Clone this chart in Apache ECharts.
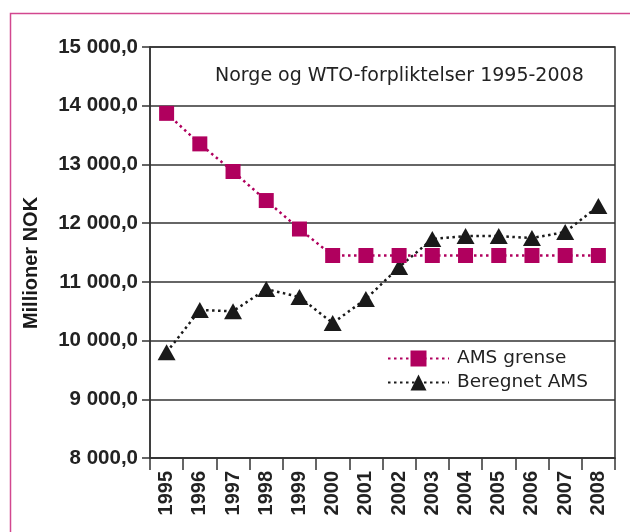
<!DOCTYPE html>
<html>
<head>
<meta charset="utf-8">
<script src="https://cdn.jsdelivr.net/npm/echarts@6/dist/echarts.min.js"></script>
<style>
html,body{margin:0;padding:0;background:#fff;}
#chart{width:630px;height:532px;}
</style>
</head>
<body>
<div id="chart"></div>
<script>
const years = ['1995','1996','1997','1998','1999','2000','2001','2002','2003','2004','2005','2006','2007','2008'];
const amsGrense = [13870, 13350, 12880, 12385, 11900, 11449, 11449, 11449, 11449, 11449, 11449, 11449, 11449, 11449];
const beregnetAms = [9800, 10520, 10500, 10877, 10741, 10298, 10707, 11252, 11729, 11780, 11780, 11746, 11848, 12290];
const yTicks = [8000, 9000, 10000, 11000, 12000, 13000, 14000, 15000];
const titleText = 'Norge og WTO-forpliktelser 1995-2008';
const yName = 'Millioner NOK';
const seriesNames = ['AMS grense', 'Beregnet AMS'];

function fmt(v) {
  const s = String(Math.round(v));
  const th = s.slice(0, s.length - 3);
  const rest = s.slice(s.length - 3);
  return (th ? th + ' ' : '') + rest + ',0';
}

const chart = echarts.init(document.getElementById('chart'), null, {renderer: 'canvas'});
const magenta = '#b0005e';
const dark = '#1a1a1a';

chart.setOption({
  animation: false,
  backgroundColor: '#fff',
  title: {
    text: titleText,
    left: 210, top: 62,
    textStyle: {fontFamily: 'DejaVu Sans', fontSize: 19, fontWeight: 'normal', color: '#222'}
  },
  graphic: [{
    type: 'rect',
    left: 8, top: 11,
    shape: {width: 700, height: 600},
    style: {fill: 'none', stroke: '#d2478f', lineWidth: 1.5},
    silent: true
  }, {
    type: 'text',
    x: 31, y: 263,
    rotation: Math.PI / 2,
    style: {
      text: yName, fill: '#1a1a1a',
      font: 'bold 20px "Liberation Sans"',
      textAlign: 'center', textVerticalAlign: 'middle'
    },
    silent: true
  }],
  legend: {
    orient: 'vertical',
    left: 387, top: 349,
    padding: 0,
    itemWidth: 61, itemHeight: 20, itemGap: 5,
    textStyle: {fontFamily: 'DejaVu Sans', fontSize: 18.5, color: '#222', padding: [0, 0, 0, 3]},
    data: seriesNames
  },
  grid: {
    left: 150, top: 47, right: 15, bottom: 74,
    show: true, borderColor: '#333', borderWidth: 1.5, backgroundColor: 'transparent'
  },
  xAxis: {
    type: 'category',
    data: years,
    boundaryGap: true,
    axisLine: {lineStyle: {color: '#333', width: 1.5}},
    axisTick: {show: true, inside: false, length: 12, alignWithLabel: false, lineStyle: {color: '#333', width: 1.5}},
    axisLabel: {rotate: 90, margin: 13, fontFamily: 'Liberation Sans', fontWeight: 'bold', fontSize: 20, color: '#222', interval: 0}
  },
  yAxis: {
    type: 'value',
    min: yTicks[0], max: yTicks[yTicks.length - 1], interval: 1000,
    axisLine: {show: true, lineStyle: {color: '#333', width: 1.5}},
    axisTick: {show: true, length: 8, lineStyle: {color: '#333', width: 1.5}},
    splitLine: {show: true, lineStyle: {color: '#333', width: 1.5}},
    axisLabel: {margin: 12, fontFamily: 'Liberation Sans', fontWeight: 'bold', fontSize: 20.5, color: '#222', formatter: fmt}
  },
  series: [{
    name: seriesNames[0],
    type: 'line',
    data: amsGrense,
    symbol: 'rect',
    symbolSize: 15,
    itemStyle: {color: magenta},
    lineStyle: {color: magenta, width: 2.5, type: [2.5, 3.5]},
    z: 3
  }, {
    name: seriesNames[1],
    type: 'line',
    data: beregnetAms,
    symbol: 'triangle',
    symbolSize: [18, 16],
    itemStyle: {color: dark},
    lineStyle: {color: dark, width: 2.5, type: [2.5, 3.5]},
    z: 2
  }]
});
</script>
</body>
</html>
